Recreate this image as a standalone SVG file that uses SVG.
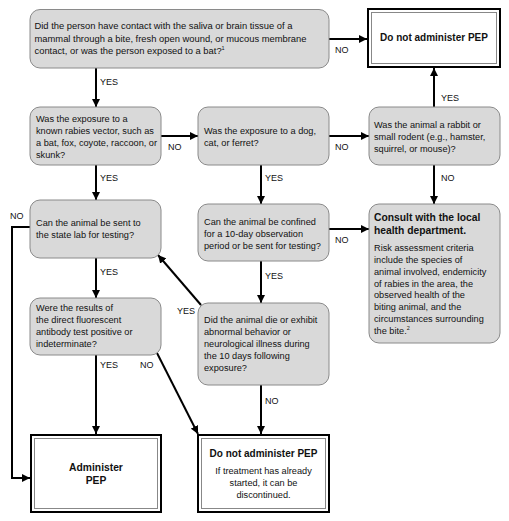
<svg xmlns="http://www.w3.org/2000/svg" width="509" height="521" viewBox="0 0 509 521">
<defs>
<marker id="ah" viewBox="0 0 10 10" refX="10" refY="5" markerWidth="4" markerHeight="4" markerUnits="strokeWidth" orient="auto">
<path d="M0,0 L10,5 L0,10 Z" fill="#000"/>
</marker>
</defs>
<style>
.q{fill:#d9d9d9;stroke:#8a8a8a;stroke-width:1}
.t{font-family:"Liberation Sans",Arial,sans-serif;font-size:9.2px;fill:#111}
.t1{font-family:"Liberation Sans",Arial,sans-serif;font-size:9.4px;fill:#111}
.b{font-family:"Liberation Sans",Arial,sans-serif;font-size:10px;font-weight:bold;fill:#111}
.bl{font-family:"Liberation Sans",Arial,sans-serif;font-size:10.3px;font-weight:bold;fill:#111}
.l{font-family:"Liberation Sans",Arial,sans-serif;font-size:9px;fill:#111}
.o{fill:#fff;stroke:#000;stroke-width:2}
.i{fill:none;stroke:#888;stroke-width:1}
.c{fill:none;stroke:#000;stroke-width:2}
.c.a{marker-end:url(#ah)}
</style>
<rect width="509" height="521" fill="#fff"/>

<g id="connectors">
<line class="c a" x1="96" y1="68" x2="96" y2="107"/>
<line class="c a" x1="329" y1="39" x2="367" y2="39"/>
<line class="c a" x1="161" y1="136" x2="198" y2="136"/>
<line class="c a" x1="329" y1="136" x2="369" y2="136"/>
<line class="c a" x1="434" y1="107" x2="434" y2="68"/>
<line class="c a" x1="96" y1="165" x2="96" y2="200"/>
<line class="c a" x1="261" y1="165" x2="261" y2="204"/>
<line class="c a" x1="434" y1="165" x2="434" y2="204"/>
<line class="c a" x1="329" y1="229" x2="369" y2="229"/>
<line class="c a" x1="96" y1="258" x2="96" y2="298"/>
<line class="c a" x1="261" y1="261" x2="261" y2="303"/>
<line class="c a" x1="201" y1="305" x2="158" y2="255"/>
<polyline class="c a" points="30,227 12,227 12,478 30,478"/>
<line class="c a" x1="96" y1="355" x2="96" y2="434"/>
<line class="c a" x1="157" y1="353" x2="198" y2="434"/>
<line class="c a" x1="261" y1="385" x2="261" y2="434"/>
<text class="l" x="100" y="85">YES</text>
<text class="l" x="335" y="53">NO</text>
<text class="l" x="168" y="150">NO</text>
<text class="l" x="335" y="150">NO</text>
<text class="l" x="441" y="101">YES</text>
<text class="l" x="100" y="181">YES</text>
<text class="l" x="265" y="181">YES</text>
<text class="l" x="441" y="181">NO</text>
<text class="l" x="335" y="243">NO</text>
<text class="l" x="10" y="219">NO</text>
<text class="l" x="100" y="275">YES</text>
<text class="l" x="265" y="279">YES</text>
<text class="l" x="177" y="314">YES</text>
<text class="l" x="100" y="368">YES</text>
<text class="l" x="140" y="368">NO</text>
<text class="l" x="265" y="404">NO</text>
</g>

<g id="n1">
<rect class="q" x="30" y="9.5" width="299" height="58.5" rx="10"/>
<text class="t1" x="34.5" y="29">Did the person have contact with the saliva or brain tissue of a</text>
<text class="t1" x="34.5" y="41.5">mammal through a bite, fresh open wound, or mucous membrane</text>
<text class="t1" x="34.5" y="54">contact, or was the person exposed to a bat?<tspan font-size="5.5" dy="-4">1</tspan></text>
</g>

<g id="dna_top">
<rect class="o" x="368" y="9" width="132" height="58"/>
<rect class="i" x="371.5" y="12.5" width="125" height="51"/>
<text class="b" x="434" y="41" text-anchor="middle">Do not administer PEP</text>
</g>

<g id="n2">
<rect class="q" x="30" y="107" width="131" height="58" rx="10"/>
<text class="t" x="36" y="121.5">Was the exposure to a</text>
<text class="t" x="36" y="133.5">known rabies vector, such as</text>
<text class="t" x="36" y="145.5">a bat, fox, coyote, raccoon, or</text>
<text class="t" x="36" y="157.5">skunk?</text>
</g>

<g id="n3">
<rect class="q" x="198" y="107" width="131" height="58" rx="10"/>
<text class="t" x="204" y="134">Was the exposure to a dog,</text>
<text class="t" x="204" y="146">cat, or ferret?</text>
</g>

<g id="n4">
<rect class="q" x="369" y="107" width="131" height="58" rx="10"/>
<text class="t" x="374" y="128">Was the animal a rabbit or</text>
<text class="t" x="374" y="140">small rodent (e.g., hamster,</text>
<text class="t" x="374" y="152">squirrel, or mouse)?</text>
</g>

<g id="n5">
<rect class="q" x="30" y="200" width="131" height="58" rx="10"/>
<text class="t" x="36" y="226">Can the animal be sent to</text>
<text class="t" x="36" y="238">the state lab for testing?</text>
</g>

<g id="n6">
<rect class="q" x="198" y="204" width="131" height="57" rx="10"/>
<text class="t" x="204" y="224.5">Can the animal be confined</text>
<text class="t" x="204" y="236.5">for a 10-day observation</text>
<text class="t" x="204" y="248.5">period or be sent for testing?</text>
</g>

<g id="n7">
<rect class="q" x="369" y="204" width="131" height="139" rx="10"/>
<text class="bl" x="374" y="221">Consult with the local</text>
<text class="bl" x="374" y="233.5">health department.</text>
<text class="t" x="374" y="251">Risk assessment criteria</text>
<text class="t" x="374" y="263">include the species of</text>
<text class="t" x="374" y="274.5">animal involved, endemicity</text>
<text class="t" x="374" y="286.5">of rabies in the area, the</text>
<text class="t" x="374" y="298">observed health of the</text>
<text class="t" x="374" y="310">biting animal, and the</text>
<text class="t" x="374" y="322">circumstances surrounding</text>
<text class="t" x="374" y="333.5">the bite.<tspan font-size="5.5" dy="-4">2</tspan></text>
</g>

<g id="n8">
<rect class="q" x="30" y="298" width="131" height="57" rx="10"/>
<text class="t" x="36" y="310.5">Were the results of</text>
<text class="t" x="36" y="322.5">the direct fluorescent</text>
<text class="t" x="36" y="334.5">antibody test positive or</text>
<text class="t" x="36" y="346.5">indeterminate?</text>
</g>

<g id="n9">
<rect class="q" x="198" y="303" width="131" height="82" rx="10"/>
<text class="t" x="204" y="323">Did the animal die or exhibit</text>
<text class="t" x="204" y="335">abnormal behavior or</text>
<text class="t" x="204" y="347">neurological illness during</text>
<text class="t" x="204" y="359">the 10 days following</text>
<text class="t" x="204" y="371">exposure?</text>
</g>

<g id="administer">
<rect class="o" x="31" y="435" width="130" height="77"/>
<rect class="i" x="34.5" y="438.5" width="123" height="70"/>
<text class="bl" x="96" y="471" text-anchor="middle">Administer</text>
<text class="bl" x="96" y="483.5" text-anchor="middle">PEP</text>
</g>

<g id="dna_bottom">
<rect class="o" x="198" y="435" width="131" height="77"/>
<rect class="i" x="201.5" y="438.5" width="124" height="70"/>
<text class="b" x="263.5" y="457" text-anchor="middle">Do not administer PEP</text>
<text class="t" x="263.5" y="473.5" text-anchor="middle">If treatment has already</text>
<text class="t" x="263.5" y="485.5" text-anchor="middle">started, it can be</text>
<text class="t" x="263.5" y="497.5" text-anchor="middle">discontinued.</text>
</g>
</svg>
